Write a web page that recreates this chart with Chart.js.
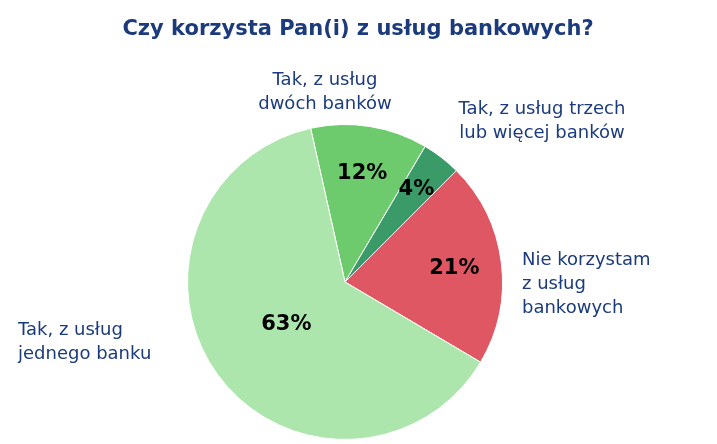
<!DOCTYPE html>
<html>
<head>
<meta charset="utf-8">
<script src="https://cdn.jsdelivr.net/npm/chart.js@4/dist/chart.umd.min.js"></script>
<style>
  body { margin: 0; background: #fff; }
  #wrap { width: 717px; height: 444px; }
</style>
</head>
<body>
<div id="wrap"><canvas id="pieChart" width="717" height="444"></canvas></div>
<script>
const chartTitle = "Czy korzysta Pan(i) z usług bankowych?";
const categories = [
  ["Tak, z usług", "dwóch banków"],
  ["Tak, z usług trzech", "lub więcej banków"],
  ["Nie korzystam", "z usług", "bankowych"],
  ["Tak, z usług", "jednego banku"],
];
const shares = [12, 4, 21, 63];
const sliceColors = ["#6dcb6d", "#3a9a68", "#e05764", "#ade6ad"];

// where the outside labels sit (x, y, align)
const outerLabelPos = [
  [325, 80, "center"],
  [542, 109, "center"],
  [522, 260, "left"],
  [18, 330, "left"],
];
// distance of percent labels from center, as fraction of radius
const innerRadiusFactor = [0.7, 0.74, 0.7, 0.46];

const labelPlugin = {
  id: "labelPlugin",
  afterDraw(chart) {
    const ctx = chart.ctx;
    ctx.save();
    // title
    ctx.fillStyle = "#1b3b7d";
    ctx.font = "bold 21px 'DejaVu Sans', Verdana, sans-serif";
    ctx.textAlign = "center";
    ctx.textBaseline = "middle";
    ctx.fillText(chartTitle, 358, 30);

    const arcs = chart.getDatasetMeta(0).data;
    arcs.forEach((arc, i) => {
      const mid = (arc.startAngle + arc.endAngle) / 2;
      const r = arc.outerRadius * innerRadiusFactor[i];
      ctx.fillStyle = "#000";
      ctx.font = "bold 21px 'DejaVu Sans', Verdana, sans-serif";
      ctx.textAlign = "center";
      ctx.fillText(shares[i] + "%", arc.x + Math.cos(mid) * r, arc.y + Math.sin(mid) * r);

      const [x, y, align] = outerLabelPos[i];
      ctx.fillStyle = "#1b3b7d";
      ctx.font = "18px 'DejaVu Sans', Verdana, sans-serif";
      ctx.textAlign = align;
      categories[i].forEach((line, j) => ctx.fillText(line, x, y + j * 24));
    });
    ctx.restore();
  },
};

new Chart(document.getElementById("pieChart"), {
  type: "pie",
  data: {
    labels: categories.map((c) => c.join(" ")),
    datasets: [
      {
        data: shares,
        backgroundColor: sliceColors,
        borderColor: "#ffffff",
        borderWidth: 1,
      },
    ],
  },
  options: {
    responsive: false,
    animation: false,
    rotation: -12.6,
    layout: { padding: { top: 124, bottom: 4, left: 100, right: 127 } },
    plugins: {
      legend: { display: false },
      tooltip: { enabled: false },
    },
  },
  plugins: [labelPlugin],
});
</script>
</body>
</html>
